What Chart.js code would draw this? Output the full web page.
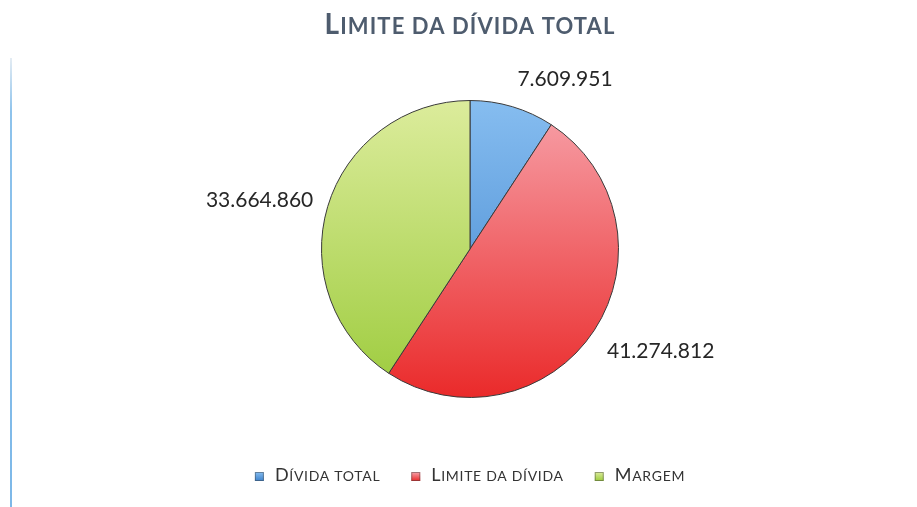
<!DOCTYPE html>
<html>
<head>
<meta charset="utf-8">
<script src="https://cdn.jsdelivr.net/npm/chart.js@4.4.0/dist/chart.umd.min.js"></script>
<style>
  html, body { margin: 0; padding: 0; background: #fff; }
  #wrap { position: relative; width: 917px; height: 507px; }
  #borda { position: absolute; left: 10px; top: 58px; width: 2px; height: 449px;
           background: linear-gradient(#e4ecf3, #8ec3ec 12%, #7db8e8); }
</style>
</head>
<body>
<div id="wrap">
  <div id="borda"></div>
  <canvas id="grafica" width="917" height="507"></canvas>
</div>
<script>
    // Dados do gráfico
    const titulo = "Limite da dívida total";
    const categorias = ["Dívida total", "Limite da dívida", "Margem"];
    const valores = [7609951, 41274812, 33664860];
    const rotulos = ["7.609.951", "41.274.812", "33.664.860"];

    // cores: [claro (topo), escuro (base)]
    const coresClaras = ["#86bdf0", "#f7a3ab", "#dcec9c"];
    const coresEscuras = ["#3d82cc", "#ea2a2a", "#9ccb3c"];

    const fonte = "Lato";

    function gradiente(ctx, i) {
      const area = ctx.chart.chartArea;
      if (!area) return coresEscuras[i];
      const g = ctx.chart.ctx.createLinearGradient(0, area.top, 0, area.bottom);
      g.addColorStop(0, coresClaras[i]);
      g.addColorStop(1, coresEscuras[i]);
      return g;
    }

    // versaletes "na mão": maiúsculas no tamanho cheio, minúsculas menores
    function pedacos(texto) {
      const out = [];
      for (const ch of texto) {
        const grande = ch !== ch.toLowerCase();
        const ult = out[out.length - 1];
        if (ult && ult.grande === grande) ult.t += ch.toUpperCase();
        else out.push({ t: ch.toUpperCase(), grande });
      }
      return out;
    }
    function larguraVersalete(ctx, texto, tam, peso) {
      let w = 0;
      pedacos(texto).forEach(p => {
        ctx.font = peso + " " + (p.grande ? tam : Math.round(tam * 0.78)) + "px " + fonte;
        w += ctx.measureText(p.t).width;
      });
      return w;
    }
    function escreveVersalete(ctx, texto, x, y, tam, peso) {
      ctx.textAlign = "left";
      ctx.textBaseline = "alphabetic";
      pedacos(texto).forEach(p => {
        ctx.font = peso + " " + (p.grande ? tam : Math.round(tam * 0.78)) + "px " + fonte;
        ctx.fillText(p.t, x, y);
        x += ctx.measureText(p.t).width;
      });
    }

    // título e legenda
    const tituloLegenda = {
      id: "tituloLegenda",
      afterDraw(chart) {
        const ctx = chart.ctx;
        const meio = (chart.chartArea.left + chart.chartArea.right) / 2;
        ctx.save();
        ctx.fillStyle = "#4e5c6e";
        ctx.letterSpacing = "1.1px";
        const wt = larguraVersalete(ctx, titulo, 28, "bold");
        escreveVersalete(ctx, titulo, meio - wt / 2, 34, 28, "bold");

        ctx.letterSpacing = "0.7px";
        const tam = 18, caixa = 9, folga = 11, espaco = 31;
        const larguras = categorias.map(c => larguraVersalete(ctx, c, tam, "normal"));
        const total = larguras.reduce((a, b) => a + b, 0) + categorias.length * (caixa + folga) + espaco * (categorias.length - 1);
        let x = meio - total / 2;
        const base = 481;
        categorias.forEach((c, i) => {
          const g = ctx.createLinearGradient(0, base - 9, 0, base);
          g.addColorStop(0, coresClaras[i]);
          g.addColorStop(1, coresEscuras[i]);
          ctx.fillStyle = g;
          ctx.fillRect(x, base - 9, caixa, caixa);
          ctx.strokeStyle = "rgba(60,60,60,0.45)";
          ctx.lineWidth = 1;
          ctx.strokeRect(x + 0.5, base - 8.5, caixa - 1, caixa - 1);
          ctx.fillStyle = "#333";
          escreveVersalete(ctx, c, x + caixa + folga, base, tam, "normal");
          x += caixa + folga + larguras[i] + espaco;
        });
        ctx.restore();
      }
    };

    // rótulos de valores fora das fatias
    const rotulosFora = {
      id: "rotulosFora",
      afterDatasetsDraw(chart) {
        const ctx = chart.ctx;
        const meta = chart.getDatasetMeta(0);
        ctx.save();
        ctx.font = "21px " + fonte;
        ctx.fillStyle = "#262626";
        ctx.textBaseline = "middle";
        ctx.textAlign = "center";
        meta.data.forEach((arc, i) => {
          const p = arc.getProps(["x", "y", "startAngle", "endAngle", "outerRadius"], true);
          const ang = (p.startAngle + p.endAngle) / 2;
          const r = p.outerRadius + 14;
          const ax = p.x + Math.cos(ang) * r;
          const ay = p.y + Math.sin(ang) * r;
          const w = ctx.measureText(rotulos[i]).width;
          const cx = ax + Math.sign(Math.cos(ang)) * (w / 2 + 1);
          const cy = ay + Math.sin(ang) * 18 + 3;
          ctx.fillText(rotulos[i], cx, cy);
        });
        ctx.restore();
      }
    };

    const ctx = document.getElementById("grafica").getContext("2d");
    const chart = new Chart(ctx, {
      type: "pie",
      data: {
        labels: categorias,
        datasets: [{
          data: valores,
          backgroundColor: c => gradiente(c, c.dataIndex),
          borderColor: "#3a3a3a",
          borderWidth: 1
        }]
      },
      options: {
        responsive: false,
        animation: false,
        layout: { padding: { left: 23, top: 100, bottom: 109 } },
        plugins: {
          title: { display: false, text: titulo },
          legend: { display: false },
          tooltip: { enabled: false }
        }
      },
      plugins: [rotulosFora, tituloLegenda]
    });
</script>
</body>
</html>
